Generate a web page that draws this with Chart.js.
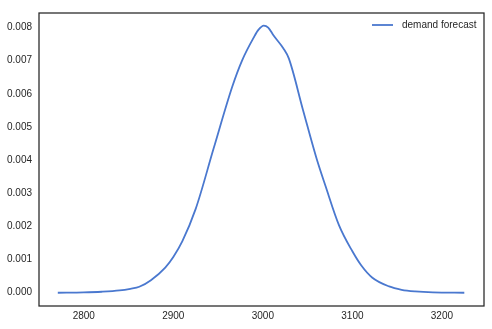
<!DOCTYPE html>
<html>
<head>
<meta charset="utf-8">
<script src="https://cdn.jsdelivr.net/npm/chart.js@4"></script>
<style>
  html, body { margin: 0; padding: 0; background: #fff; }
  #wrap { width: 492px; height: 329px; }
</style>
</head>
<body>
<div id="wrap"><canvas id="chart" width="492" height="329"></canvas></div>
<script>
var demand = [2771, 2800, 2820, 2840, 2852, 2862, 2875, 2891, 2900, 2910, 2925, 2945, 2966, 2977,
    2990, 2995, 3001, 3006, 3012, 3023, 3029, 3045, 3060, 3070, 3085, 3100, 3110, 3122, 3141,
    3155, 3170, 3190, 3225];
var density = [0, 0.00001, 0.00003, 0.00007, 0.00012, 0.00018, 0.00038, 0.00076, 0.00108, 0.00155, 0.00253,
    0.00435, 0.00623, 0.00702, 0.00771, 0.00793, 0.00806, 0.008, 0.00776, 0.00737, 0.00707,
    0.0055, 0.00405, 0.00322, 0.00204, 0.00125, 0.00082, 0.00046, 0.00019, 0.00009, 0.00004,
    0.00001, 0];
var xTicks = [2800, 2900, 3000, 3100, 3200];
var yTicks = [0, 0.001, 0.002, 0.003, 0.004, 0.005, 0.006, 0.007, 0.008];
var seriesLabel = 'demand forecast';

var points = demand.map(function (x, i) { return { x: x, y: density[i] }; });
var textColor = '#262626';
var lineColor = '#4a78cf';

// frame round the plot and the legend in the upper right corner
var frame = {
    id: 'frame',
    afterDraw: function (chart) {
        var c = chart.ctx, a = chart.chartArea;
        c.save();
        c.strokeStyle = textColor;
        c.lineWidth = 1.25;
        c.strokeRect(a.left, a.top, a.right - a.left, a.bottom - a.top);
        var y = a.top + 12;
        c.strokeStyle = lineColor;
        c.lineWidth = 1.8;
        c.beginPath();
        c.moveTo(a.right - 112, y);
        c.lineTo(a.right - 91, y);
        c.stroke();
        c.fillStyle = textColor;
        c.font = '10px "Liberation Sans", Arial, sans-serif';
        c.textBaseline = 'middle';
        c.textAlign = 'left';
        c.fillText(chart.data.datasets[0].label, a.right - 82, y);
        c.restore();
    }
};

var ctx = document.getElementById('chart').getContext('2d');
var myChart = new Chart(ctx, {
    type: 'line',
    data: {
        datasets: [{
            label: seriesLabel,
            data: points,
            borderColor: lineColor,
            borderWidth: 1.8,
            pointRadius: 0,
            fill: false,
            cubicInterpolationMode: 'monotone'
        }]
    },
    plugins: [frame],
    options: {
        responsive: false,
        animation: false,
        layout: { padding: { top: 7, right: 8, left: 0, bottom: 0 } },
        plugins: {
            legend: { display: false },
            tooltip: { enabled: false }
        },
        scales: {
            x: {
                type: 'linear',
                min: 2750,
                max: 3247,
                grid: { display: false, drawTicks: false },
                border: { display: false },
                afterBuildTicks: function (s) { s.ticks = xTicks.map(function (v) { return { value: v }; }); },
                afterFit: function (s) { s.height = 23; },
                ticks: {
                    padding: 4,
                    color: textColor,
                    font: { family: '"Liberation Sans", Arial, sans-serif', size: 10 },
                    callback: function (v) { return String(v); }
                }
            },
            y: {
                min: -0.0004,
                max: 0.00844,
                grid: { display: false, drawTicks: false },
                border: { display: false },
                afterBuildTicks: function (s) { s.ticks = yTicks.map(function (v) { return { value: v }; }); },
                afterFit: function (s) { s.width = 39; },
                ticks: {
                    padding: 7,
                    color: textColor,
                    font: { family: '"Liberation Sans", Arial, sans-serif', size: 10 },
                    callback: function (v) { return v.toFixed(3); }
                }
            }
        }
    }
});
</script>
</body>
</html>
